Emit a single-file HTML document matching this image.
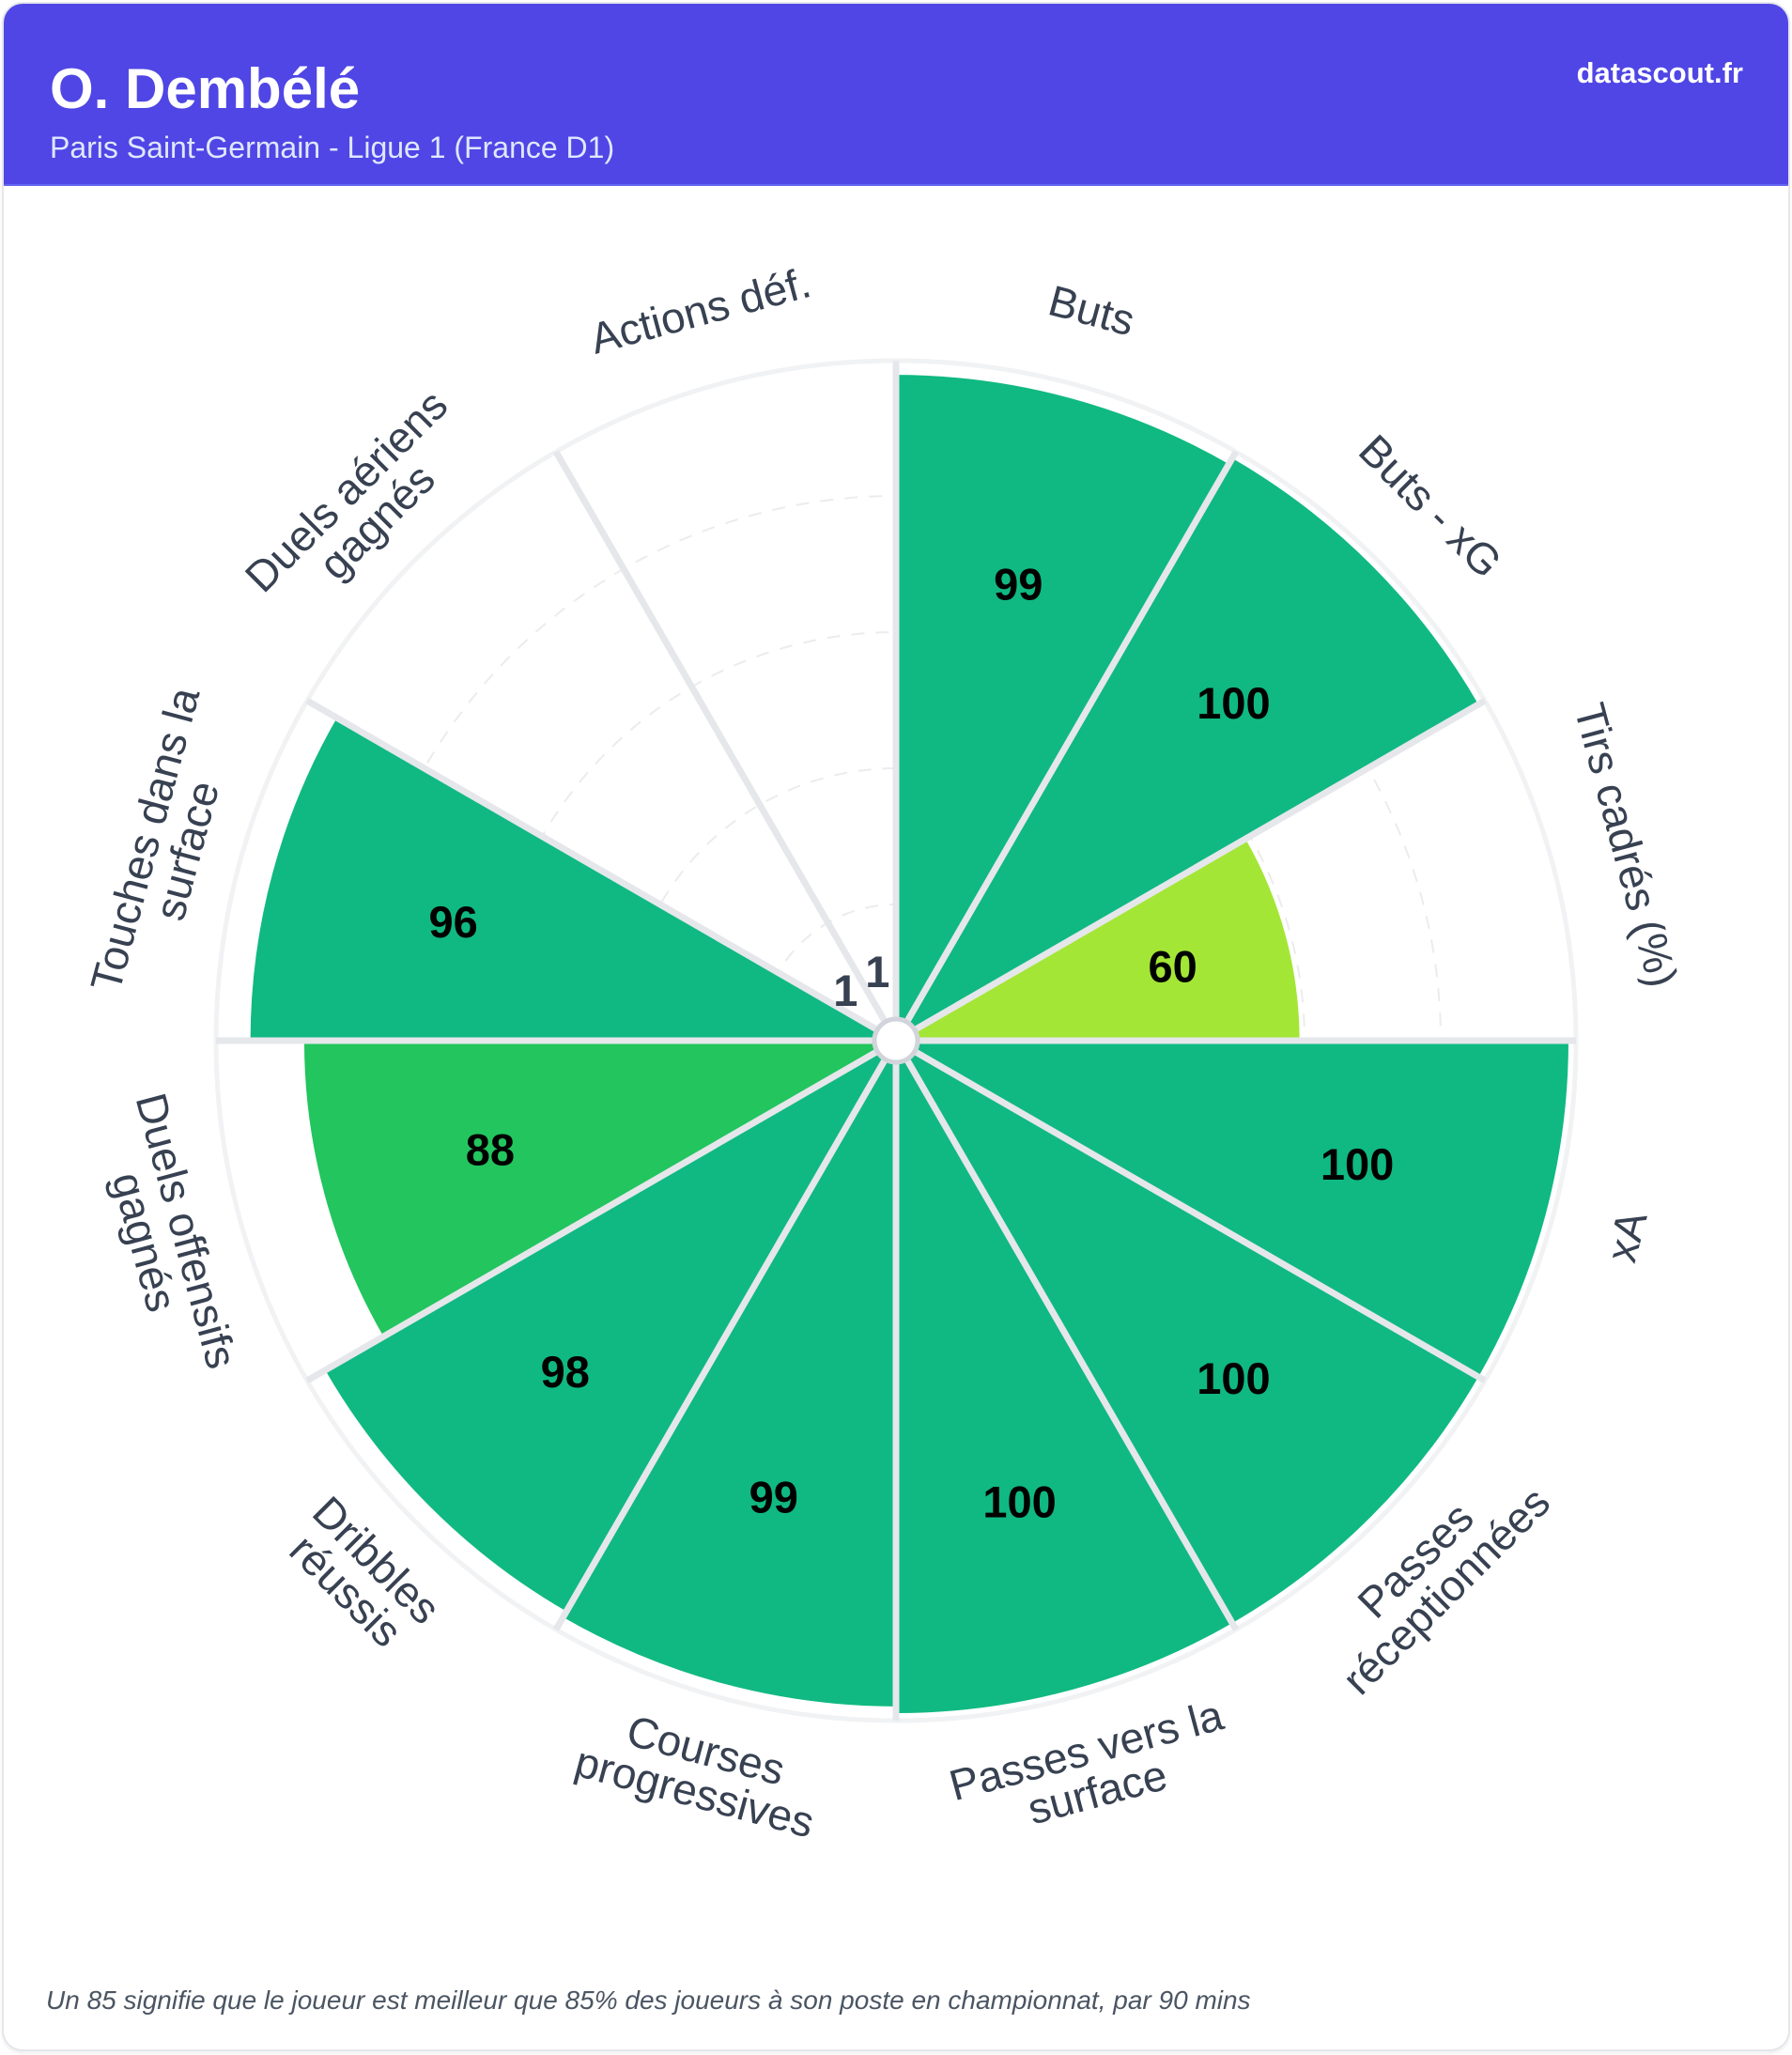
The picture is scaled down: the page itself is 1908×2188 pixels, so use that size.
<!DOCTYPE html>
<html><head><meta charset="utf-8">
<style>
html,body{margin:0;padding:0;background:#fff;}
body{width:1908px;height:2188px;position:relative;overflow:hidden;font-family:"Liberation Sans",Arial,sans-serif;}
.card{position:absolute;left:2px;top:2px;width:1900px;height:2178px;border:2px solid #e5e7eb;border-radius:22px;overflow:hidden;box-shadow:0 3px 3px rgba(0,0,0,0.06);background:#fff;}
.hdr{position:absolute;left:0;top:0;width:100%;height:192px;background:#4f46e5;border-bottom:2px solid #6366f1;}
.t{position:absolute;left:49px;top:61px;color:#fff;font-weight:bold;font-size:60px;line-height:1;}
.s{position:absolute;left:49px;top:137px;color:#e0e7ff;font-size:32px;line-height:1;}
.d{position:absolute;right:48px;top:58px;color:#fff;font-weight:bold;font-size:31px;line-height:1;}
.f{position:absolute;left:49px;top:2116px;color:#4b5563;font-style:italic;font-size:28px;line-height:1;}
svg{position:absolute;left:0;top:0;}
</style></head><body>
<div class="card">
<div class="hdr"><div class="t">O. Dembélé</div><div class="s">Paris Saint-Germain - Ligue 1 (France D1)</div><div class="d">datascout.fr</div></div>
</div>
<svg id="sv" width="1908" height="2188" xmlns="http://www.w3.org/2000/svg"></svg>
<div class="f">Un 85 signifie que le joueur est meilleur que 85% des joueurs à son poste en championnat, par 90 mins</div>
<script>
var cx=954,cy=1108,R=716,RO=724;
var data=[
["Buts",99,"#10b981",["Buts"]],
["Buts - xG",100,"#10b981",["Buts - xG"]],
["Tirs",60,"#a3e635",["Tirs cadrés (%)"]],
["xA",100,"#10b981",["xA"]],
["PR",100,"#10b981",["Passes","réceptionnées"]],
["PVS",100,"#10b981",["Passes vers la","surface"]],
["CP",99,"#10b981",["Courses","progressives"]],
["DR",98,"#10b981",["Dribbles","réussis"]],
["DO",88,"#22c55e",["Duels offensifs","gagnés"]],
["TS",96,"#10b981",["Touches dans la","surface"]],
["DA",1,"#10b981",["Duels aériens","gagnés"]],
["AD",1,"#10b981",["Actions déf."]]
];
var s='';
function P(r,a){var t=a*Math.PI/180;return [cx+r*Math.cos(t),cy+r*Math.sin(t)];}
for(var k=1;k<=4;k++){s+='<circle cx="'+cx+'" cy="'+cy+'" r="'+(145*k)+'" fill="none" stroke="#ececec" stroke-width="2" stroke-dasharray="14 12"/>';}
s+='<circle cx="'+cx+'" cy="'+cy+'" r="'+RO+'" fill="none" stroke="#f1f2f4" stroke-width="5"/>';
data.forEach(function(d,i){
 var a1=-90+30*i,a2=a1+30,r=d[1]/100*R;
 var p1=P(r,a1),p2=P(r,a2);
 s+='<path d="M'+cx+' '+cy+' L'+p1[0]+' '+p1[1]+' A'+r+' '+r+' 0 0 1 '+p2[0]+' '+p2[1]+' Z" fill="'+d[2]+'"/>';
});
for(var i=0;i<12;i++){var p=P(RO,-90+30*i);s+='<line x1="'+cx+'" y1="'+cy+'" x2="'+p[0]+'" y2="'+p[1]+'" stroke="#e5e7eb" stroke-width="7"/>';}
data.forEach(function(d,i){
 var m=-75+30*i,r=d[1]/100*R;
 var lr=Math.max(0.71*r,76);var p=P(lr,m);
 s+='<text x="'+p[0]+'" y="'+p[1]+'" text-anchor="middle" dominant-baseline="central" font-family="Liberation Sans,Arial,sans-serif" font-weight="bold" font-size="47" fill="'+(d[1]<5?'#374151':'#000')+'">'+d[1]+'</text>';
 var q=P(805,m);var mm=((m%360)+360)%360;
 var rot=(mm>0&&mm<180)?mm-90:mm+90;
 var lines=d[3],n=lines.length,t='<text transform="translate('+q[0]+','+q[1]+') rotate('+rot+')" text-anchor="middle" dominant-baseline="central" font-family="Liberation Sans,Arial,sans-serif" font-size="46" fill="#374151">';
 lines.forEach(function(L,j){t+='<tspan x="0" y="'+((j-(n-1)/2)*46)+'">'+L+'</tspan>';});
 s+=t+'</text>';
});
s+='<circle cx="'+cx+'" cy="'+cy+'" r="23" fill="#fff" stroke="#d1d5db" stroke-width="5"/>';
document.getElementById('sv').innerHTML=s;
</script>
</body></html>
